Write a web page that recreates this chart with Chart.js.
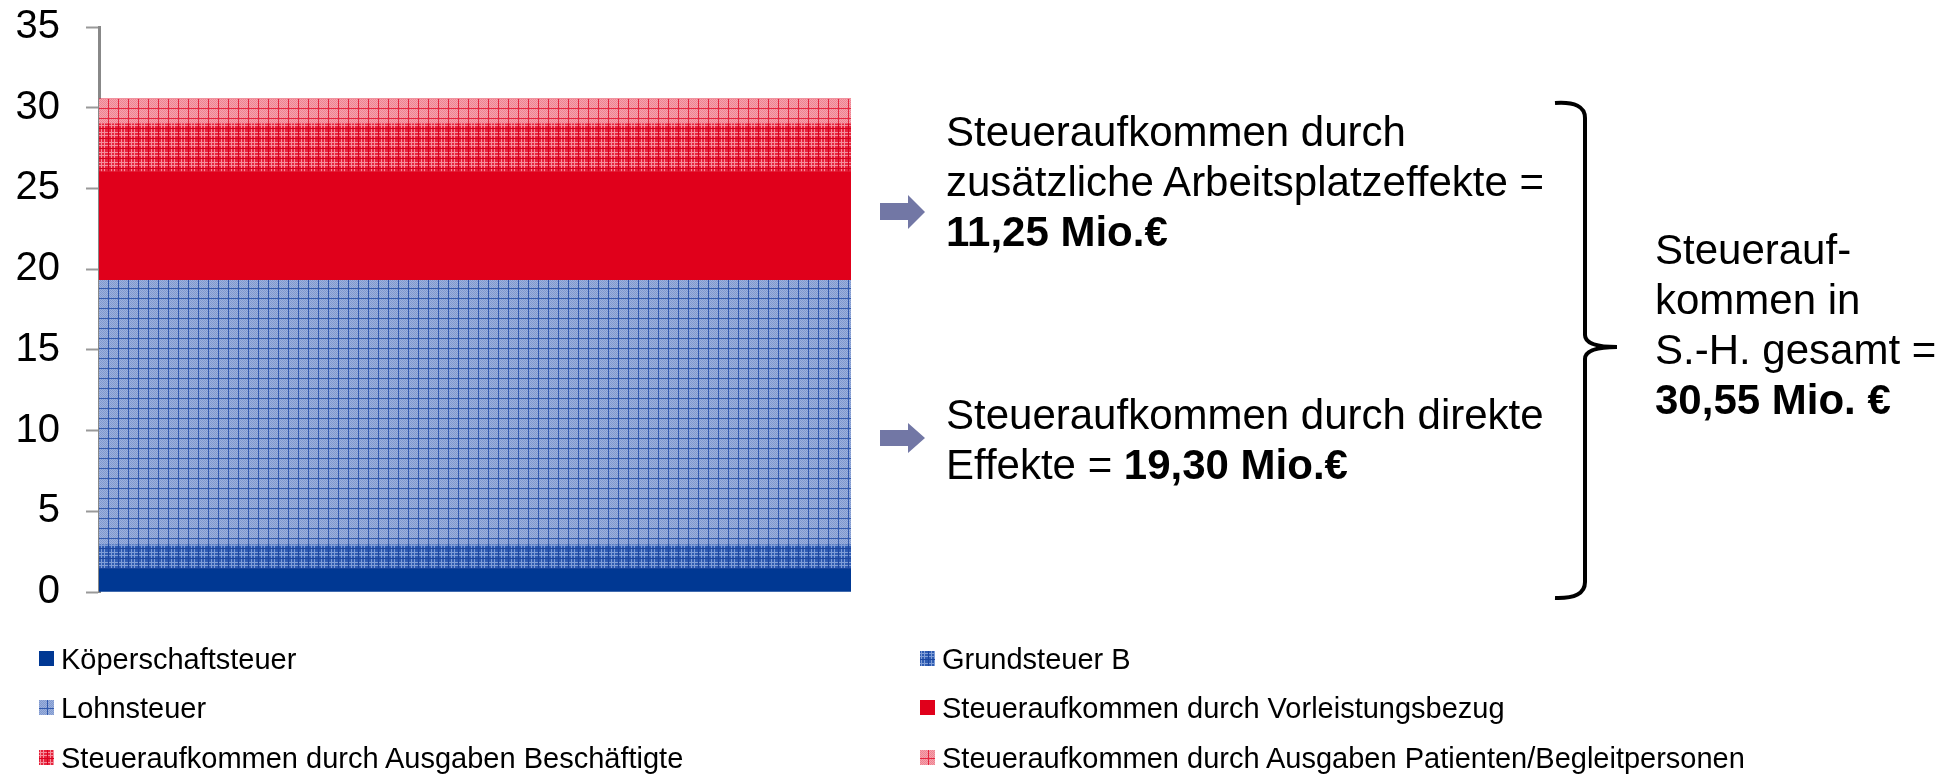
<!DOCTYPE html>
<html>
<head>
<meta charset="utf-8">
<script src="https://cdn.jsdelivr.net/npm/chart.js"></script>
<style>
  html, body { margin: 0; padding: 0; background: #fff; }
  #wrap { position: relative; width: 1957px; height: 776px; font-family: "Liberation Sans", Arial, sans-serif; color: #000; }
  #myChart { position: absolute; left: 0; top: 0; }
  .note { position: absolute; font-size: 42px; line-height: 50px; white-space: nowrap; }
  .note b { font-weight: bold; }
  .leg { position: absolute; font-size: 29px; line-height: 32px; white-space: nowrap; }
  .sw { position: absolute; width: 15px; height: 15px; }
  svg { position: absolute; left: 0; top: 0; }
</style>
</head>
<body>
<div id="wrap">
  <canvas id="myChart" width="1957" height="776"></canvas>
  <svg width="1957" height="776">
    <polygon points="880,203 908,203 908,195 925,212 908,229 908,220 880,220" fill="#7277a5"/>
    <polygon points="880,430 908,430 908,423 925,438 908,453 908,446 880,446" fill="#7277a5"/>
    <path d="M1555,103 Q1585,101 1585,118 L1585,335 Q1585,347 1617,347 Q1585,347 1585,359 L1585,582 Q1585,599 1555,598" fill="none" stroke="#000" stroke-width="4"/>
  </svg>
  <div class="note" style="left:946px; top:107px;">Steueraufkommen durch<br>zusätzliche Arbeitsplatzeffekte =<br><b>11,25 Mio.€</b></div>
  <div class="note" style="left:946px; top:390px;">Steueraufkommen durch direkte<br>Effekte = <b>19,30 Mio.€</b></div>
  <div class="note" style="left:1655px; top:225px;">Steuerauf-<br>kommen in<br>S.-H. gesamt =<br><b>30,55 Mio. €</b></div>
  <div id="legend"></div>
</div>
<script>
// values (Mio. €)
var categories = ['Steueraufkommen'];
var seriesNames = ['Köperschaftsteuer', 'Grundsteuer B', 'Lohnsteuer',
                   'Steueraufkommen durch Vorleistungsbezug',
                   'Steueraufkommen durch Ausgaben Beschäftigte',
                   'Steueraufkommen durch Ausgaben Patienten/Begleitpersonen'];
var koerperschaft = [1.42];
var grundsteuer = [1.50];
var lohnsteuer = [16.38];
var vorleistung = [6.75];
var beschaeftigte = [2.95];
var patienten = [1.55];
var yTicks = [0, 5, 10, 15, 20, 25, 30, 35];

function checker(g, a, b) {
    for (var i = 0; i < 10; i++) {
        for (var j = 0; j < 10; j++) {
            g.fillStyle = (i + j) % 2 ? a : b;
            g.fillRect(i, j, 1, 1);
        }
    }
}
function dense(g, base, light, dark) {
    g.fillStyle = base; g.fillRect(0, 0, 10, 10);
    g.fillStyle = light;
    g.fillRect(1, 0, 1, 10); g.fillRect(4, 0, 1, 10);
    g.fillRect(0, 2, 10, 1); g.fillRect(0, 5, 10, 1);
    g.fillStyle = dark;
    g.fillRect(8, 0, 1, 10); g.fillRect(0, 8, 10, 1);
}

// patterns are made on a throwaway canvas context
var helper = document.createElement('canvas').getContext('2d');
function pat(draw) {
    var c = document.createElement('canvas');
    c.width = 10; c.height = 10;
    draw(c.getContext('2d'));
    return helper.createPattern(c, 'repeat');
}

var fills = [
    '#003893',
    pat(function (g) { dense(g, '#2f5cb2', '#7f9dd6', '#1c469f'); }),
    pat(function (g) {
        checker(g, '#9bb1dd', '#8199cf');
        g.fillStyle = '#3159ad';
        g.fillRect(8, 0, 1, 10); g.fillRect(0, 8, 10, 1);
    }),
    '#e0001b',
    pat(function (g) { dense(g, '#e6243d', '#f48e9c', '#d8001f'); }),
    pat(function (g) {
        checker(g, '#f6a2ad', '#ee8391');
        g.fillStyle = '#e4253f';
        g.fillRect(8, 0, 1, 10); g.fillRect(0, 8, 10, 1);
    })
];
var values = [koerperschaft, grundsteuer, lohnsteuer, vorleistung, beschaeftigte, patienten];

var datasets = seriesNames.map(function (name, i) {
    return {
        label: name,
        data: values[i],
        backgroundColor: fills[i],
        borderWidth: 0,
        barPercentage: 1,
        categoryPercentage: 1
    };
});

var ctx = document.getElementById('myChart').getContext('2d');
var myChart = new Chart(ctx, {
    type: 'bar',
    data: { labels: categories, datasets: datasets },
    options: {
        responsive: false,
        animation: false,
        layout: { padding: { left: 10, top: 27, right: 1106, bottom: 184 } },
        plugins: { legend: { display: false }, tooltip: { enabled: false } },
        scales: {
            x: { stacked: true, display: false },
            y: {
                stacked: true,
                min: 0,
                max: 35,
                afterBuildTicks: function (axis) {
                    axis.ticks = yTicks.map(function (v) { return { value: v }; });
                },
                afterFit: function (axis) {
                    axis.width = 89;
                    axis.paddingTop = 0;
                    axis.paddingBottom = 0;
                },
                ticks: {
                    color: '#000',
                    padding: 26,
                    font: { family: '"Liberation Sans", Arial, sans-serif', size: 40 }
                },
                grid: {
                    drawOnChartArea: false,
                    drawTicks: true,
                    tickLength: 13,
                    tickWidth: 2,
                    tickColor: '#999'
                },
                border: { display: true, color: '#888', width: 3 }
            }
        }
    }
});

// two-column legend under the chart
var legend = document.getElementById('legend');
var colX = [39, 920];
var rowBase = [669, 718, 768];
seriesNames.forEach(function (name, i) {
    var col = i % 2, row = Math.floor(i / 2);
    var sw = document.createElement('canvas');
    sw.width = 15; sw.height = 15;
    sw.className = 'sw';
    sw.style.left = colX[col] + 'px';
    sw.style.top = (rowBase[row] - 18) + 'px';
    var g = sw.getContext('2d');
    g.fillStyle = fills[i];
    g.fillRect(0, 0, 15, 15);
    legend.appendChild(sw);
    var t = document.createElement('div');
    t.className = 'leg';
    t.textContent = name;
    t.style.left = (colX[col] + 22) + 'px';
    t.style.top = (rowBase[row] - 26) + 'px';
    legend.appendChild(t);
});
</script>
</body>
</html>
